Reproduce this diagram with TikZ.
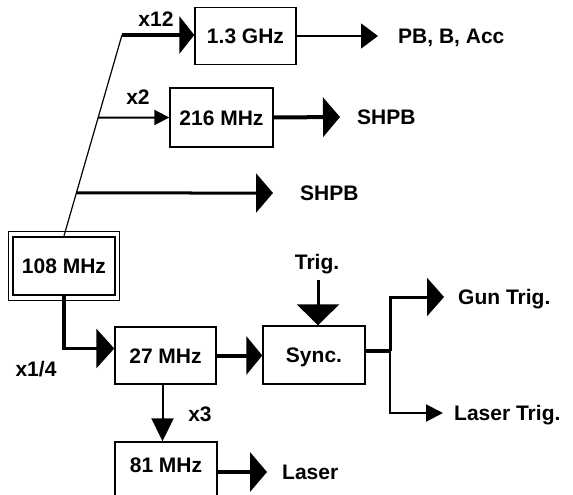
\documentclass[tikz,border=0pt]{standalone}
\usepackage{fontspec}
\setmainfont{Liberation Sans}
\usetikzlibrary{arrows.meta,calc}
\begin{document}
\begin{tikzpicture}[x=1pt,y=-1pt,
  every node/.style={font=\fontsize{21}{24}\selectfont\bfseries, text height=15pt, text depth=0pt},
  box/.style={draw, line width=1.4pt, minimum width=101pt, minimum height=57pt, inner sep=0pt},
  lbl/.style={inner sep=0pt},
  big/.style={-{Triangle[length=17pt,width=39pt]}},
  mid/.style={-{Triangle[length=15pt,width=15pt]}},
]
\useasboundingbox (0,0) rectangle (573,495);
\fill[white] (0,0) rectangle (573,495);
\clip (0,0) rectangle (573,495);

% boxes
\node[box] (ghz) at (245.5,36) {1.3 GHz};
\node[box, minimum width=103pt, minimum height=59pt] (m216) at (221.5,117.5) {216 MHz};
\node[box, line width=2.4pt, minimum width=102pt, minimum height=58pt] (m108) at (64,266) {108 MHz};
\draw[line width=1pt] ([shift={(-3.5,-4.5)}]m108.north west) rectangle ([shift={(3.5,4.5)}]m108.south east);
\node[box] (m27) at (165.5,355.5) {27 MHz};
\node[box, minimum width=102pt, minimum height=58pt] (sync) at (314,355) {Sync.};
\node[box, minimum width=102pt, minimum height=60pt] (m81) at (166,472) {\raisebox{7pt}{81 MHz}};

% labels
\node[lbl] (x12) at (156,19) {x12};
\node[lbl] (x2) at (138,97) {x2};
\node[lbl, anchor=west] (pb) at (398,36) {PB, B, Acc};
\node[lbl, anchor=west] (shpb1) at (357,117) {SHPB};
\node[lbl, anchor=west] (shpb2) at (300,193) {SHPB};
\node[lbl] (trig) at (317,262) {Trig.};
\node[lbl, anchor=west] (gun) at (458,297) {Gun Trig.};
\node[lbl, anchor=west] (ltrig) at (454,413) {Laser Trig.};
\node[lbl] (x14) at (36,369) {x1/4};
\node[lbl] (x3) at (200,414) {x3};
\node[lbl, anchor=west] (laser) at (282,472) {Laser};

% free ends
\coordinate (dtop) at (122,35);
\coordinate (pbtip) at (378,36);
\coordinate (shpb1tip) at (340,117);
\coordinate (shpb2tip) at (273,193);
\coordinate (b3ref) at (0,193);
\coordinate (lasertip) at (267,472);
\coordinate (split) at (390,351);
\coordinate (guntip) at (444,297);
\coordinate (ltrigtip) at (443,413);

% connectors
\draw[line width=1.2pt] (m108.north) -- (dtop);
\draw[line width=4pt, -{Triangle[length=15pt,width=37pt]}] (dtop) -- (dtop -| ghz.west);
\draw[line width=1.5pt, -{Triangle[length=17pt,width=25pt]}] (ghz.east) -- (pbtip);
\draw[line width=2pt, mid] (intersection of m108.north--dtop and m216.west--m216.east) -- (m216.west);
\draw[line width=4pt, big] (m216.east) -- (shpb1tip);
\draw[line width=3pt, big] (intersection of m108.north--dtop and b3ref--shpb2tip) -- (shpb2tip);
\draw[line width=3.5pt, -{Triangle[length=18pt,width=39pt]}] (m108.south) |- ([yshift=7pt]m27.west);
\draw[line width=4pt, -{Triangle[length=16pt,width=38pt]}] (m27.east) -- (m27.east -| sync.west);
\draw[line width=2pt, -{Triangle[length=23pt,width=22pt]}] ([xshift=-3pt]m27.south) -- ([xshift=-3pt]m27.south |- m81.north);
\draw[line width=4pt, big] (m81.east) -- (lasertip);
\draw[line width=3pt, -{Triangle[length=21pt,width=42pt]}, shorten <=10pt] ([xshift=1pt]trig.south) -- ([xshift=1pt]trig.south |- sync.north);
\draw[line width=3.5pt] ([yshift=4pt]sync.east) -- (split);
\draw[line width=3pt, -{Triangle[length=17pt,width=38pt]}] (split) |- (guntip);
\draw[line width=2pt, -{Triangle[length=17pt,width=17pt]}] (split) |- (ltrigtip);
\end{tikzpicture}
\end{document}
